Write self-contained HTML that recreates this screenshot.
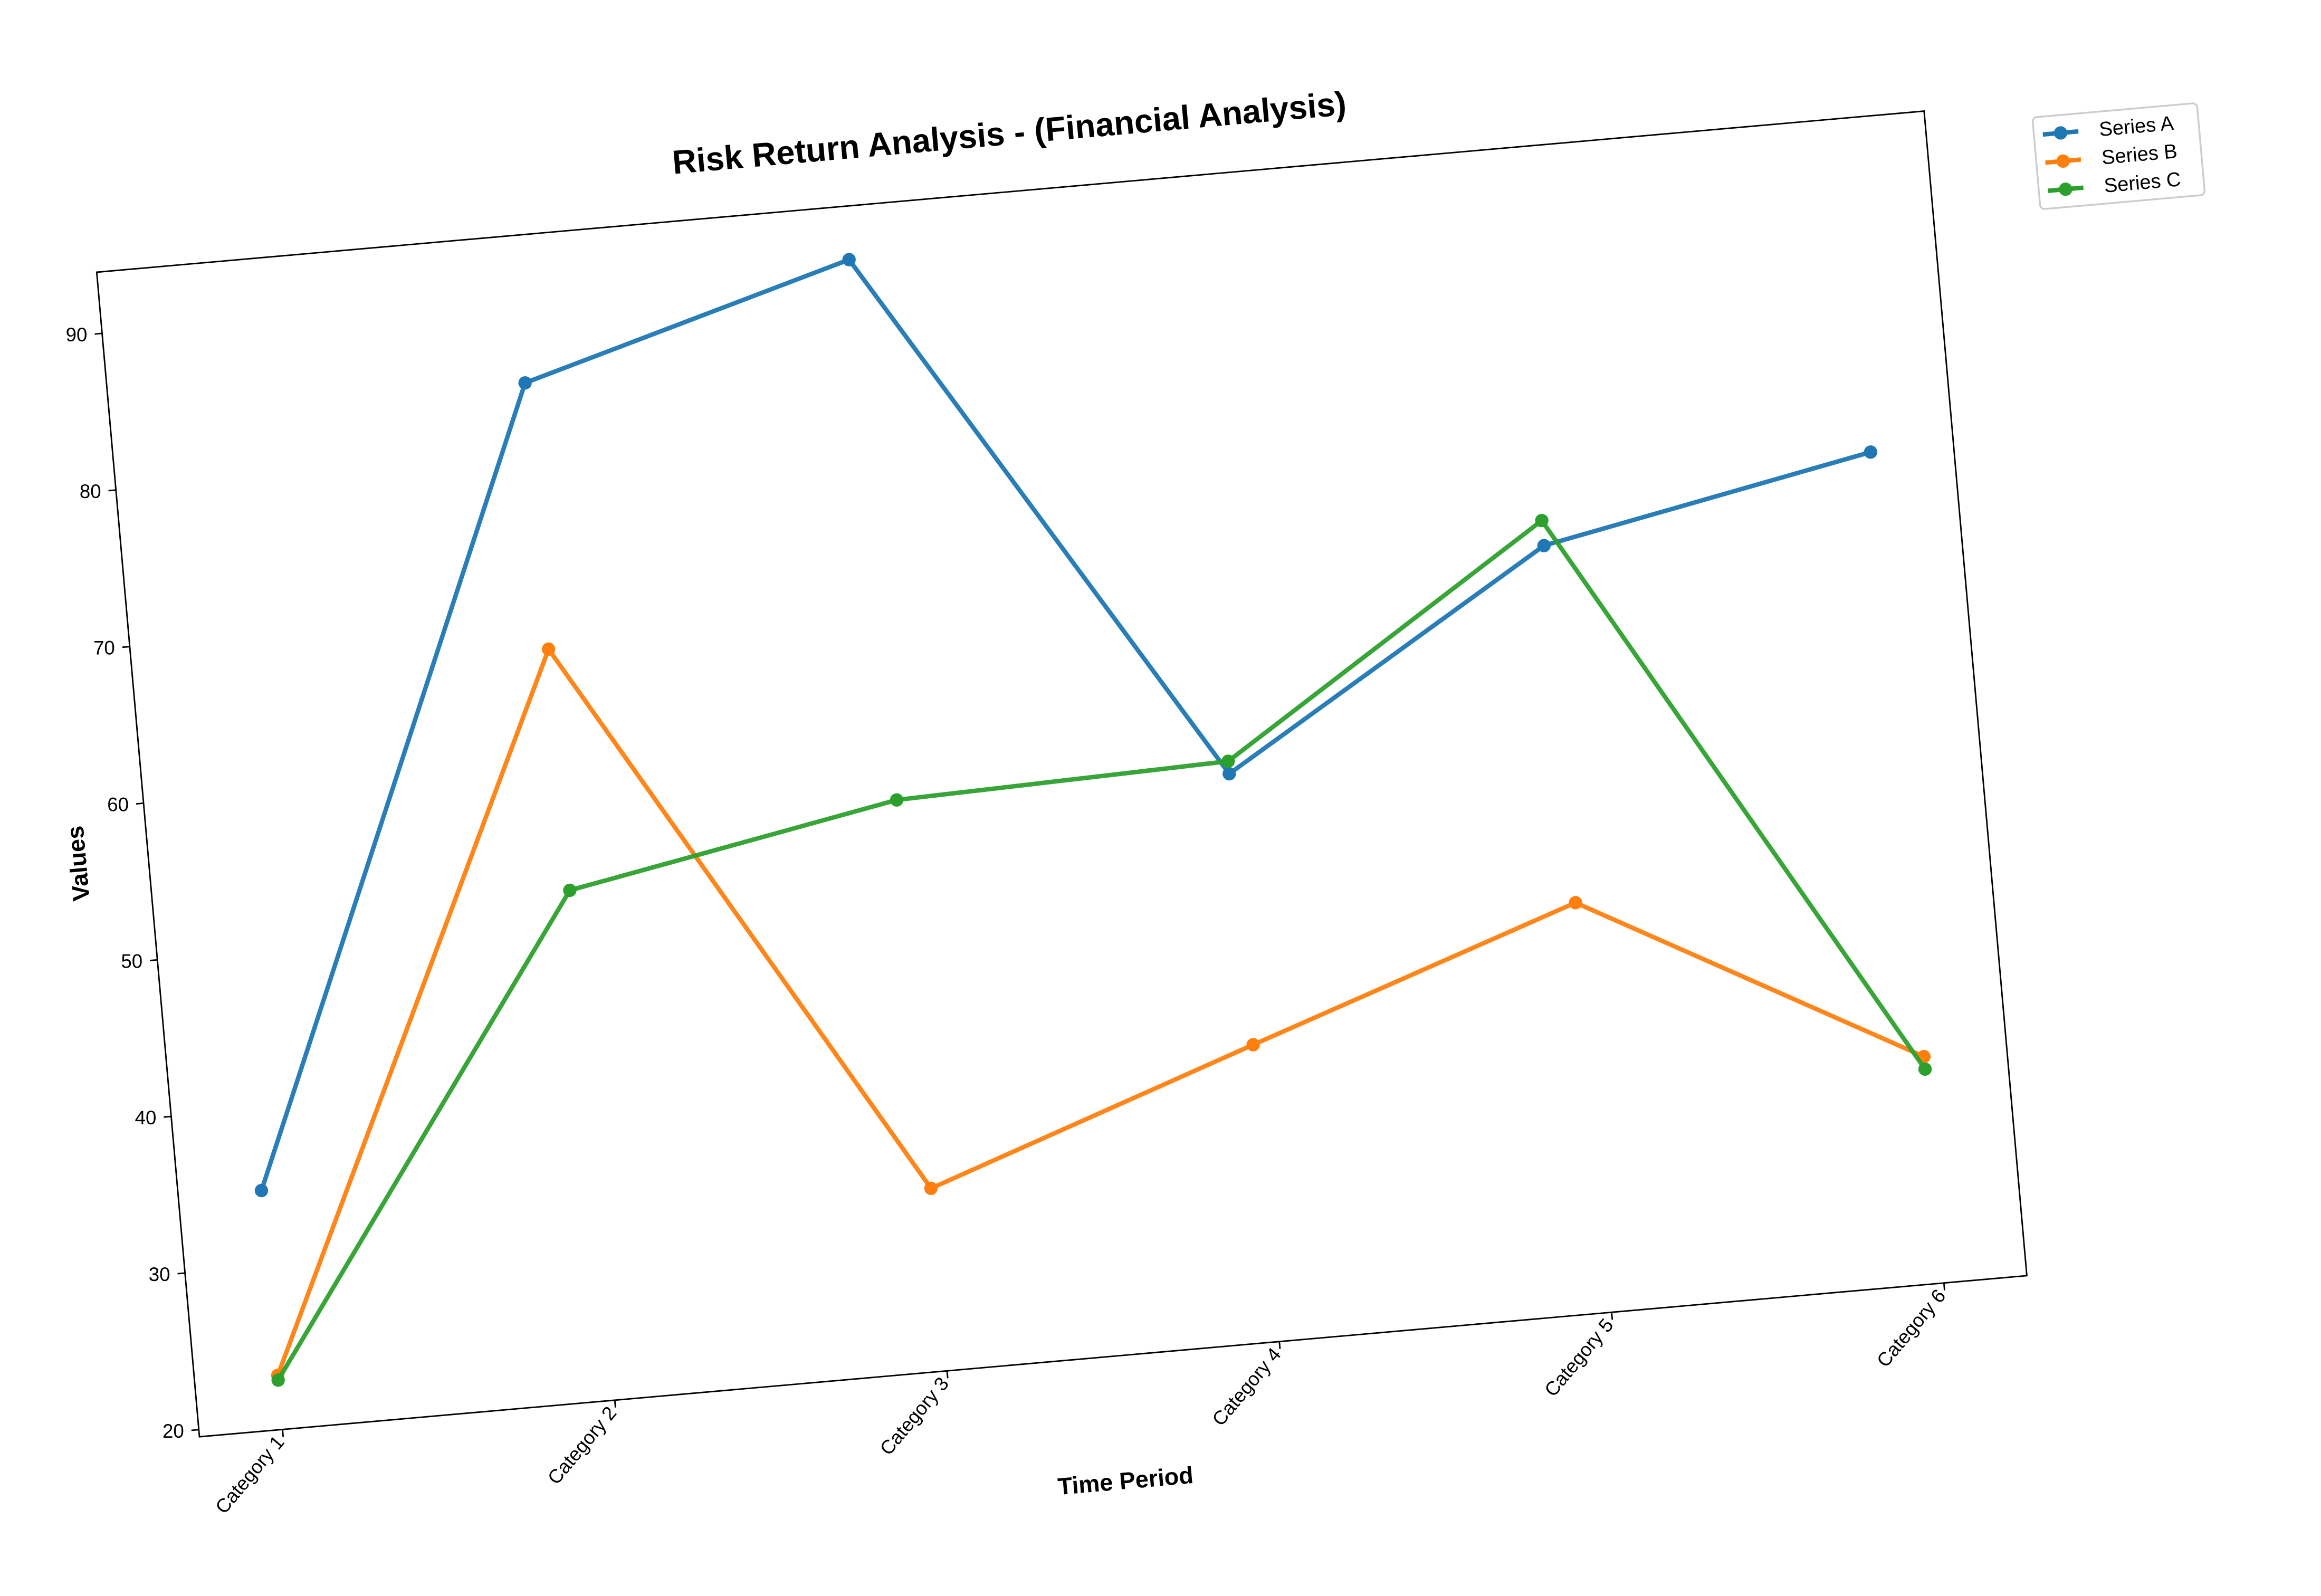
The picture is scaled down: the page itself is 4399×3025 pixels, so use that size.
<!DOCTYPE html>
<html><head><meta charset="utf-8">
<style>html,body{margin:0;padding:0;background:#fff}svg{display:block}</style>
</head><body>
<svg id="chart" width="4399" height="3025" viewBox="0 0 1560 1073" preserveAspectRatio="none" xmlns="http://www.w3.org/2000/svg" font-family="Liberation Sans, sans-serif">
<rect width="1560" height="1073" fill="#fff"/>
<text x="679" y="97" font-size="22.5" font-weight="bold" text-anchor="middle" transform="rotate(-5.04 679 97)">Risk Return Analysis - (Financial Analysis)</text>
<text x="58" y="580" font-size="16" font-weight="bold" text-anchor="middle" transform="rotate(-95.04 58 580)">Values</text>
<text x="757" y="1001" font-size="16" font-weight="bold" text-anchor="middle" transform="rotate(-5.04 757 1001)">Time Period</text>
<g id="axes" transform="translate(65,183) rotate(-5.04)">
<rect x="0" y="0" width="1233" height="786" fill="none" stroke="#000" stroke-width="1"/>
</g>
<g id="outer"></g>
<g transform="translate(1366,79) rotate(-5.04)">
<rect x="0" y="0" width="111" height="62" rx="3" fill="#fff" stroke="#ccc" stroke-width="1.2"/>
<g><line x1="6" y1="12" x2="30" y2="12" stroke="#1f77b4" stroke-width="3"/><circle cx="18" cy="12" r="4.5" fill="#1f77b4"/><text x="44" y="16.5" font-size="13.5">Series A</text></g>
<g><line x1="6" y1="31" x2="30" y2="31" stroke="#ff7f0e" stroke-width="3"/><circle cx="18" cy="31" r="4.5" fill="#ff7f0e"/><text x="44" y="35.5" font-size="13.5">Series B</text></g>
<g><line x1="6" y1="50" x2="30" y2="50" stroke="#2ca02c" stroke-width="3"/><circle cx="18" cy="50" r="4.5" fill="#2ca02c"/><text x="44" y="54.5" font-size="13.5">Series C</text></g>
</g>
</svg>
<script>
const categories = ["Category 1","Category 2","Category 3","Category 4","Category 5","Category 6"];
const seriesA = [34.8, 84.5, 90.5, 55.8, 68.5, 72.6];
const seriesB = [23.0, 67.5, 31.2, 38.5, 45.7, 34.0];
const seriesC = [22.7, 52.1, 56.0, 56.6, 70.1, 33.2];
const yTicks = [20, 30, 40, 50, 60, 70, 80, 90];

const NS = "http://www.w3.org/2000/svg";
const axes = document.getElementById("axes");
const outer = document.getElementById("outer");
const H = 786;
const xScale = i => (i + 0.25) * 224.2;
const yScale = v => 41.3 + (90 - v) * 10.57;
const th = -5.04 * Math.PI / 180, c = Math.cos(th), s = Math.sin(th);
const toScreen = (u, v) => [65 + u * c - v * s, 183 + u * s + v * c];
function mk(tag, attrs, parent) {
  const e = document.createElementNS(NS, tag);
  for (const k in attrs) e.setAttribute(k, attrs[k]);
  parent.appendChild(e);
  return e;
}
yTicks.forEach(t => {
  const v = yScale(t);
  const tk = mk("line", {x1: -5, y1: v, x2: 0, y2: v, stroke: "#000", "stroke-width": 1}, axes);
  
  
  const p = toScreen(-10, v);
  const tx = mk("text", {x: p[0], y: p[1] + 4.5, "font-size": 13, "text-anchor": "end"}, outer);
  
  
  tx.textContent = t;
});
categories.forEach((cat, i) => {
  const u = xScale(i);
  const tk = mk("line", {x1: u, y1: H, x2: u, y2: H + 5, stroke: "#000", "stroke-width": 1}, axes);
  
  
  const p = toScreen(u + 1, H + 9);
  const tx = mk("text", {x: p[0], y: p[1], "font-size": 13, "text-anchor": "end", transform: `rotate(-50 ${p[0]} ${p[1]})`}, outer);
  
  
  tx.textContent = cat;
});
[[seriesA, "#1f77b4", "a"], [seriesB, "#ff7f0e", "b"], [seriesC, "#2ca02c", "c"]].forEach(([vals, col, id]) => {
  const pts = vals.map((v, i) => xScale(i) + "," + yScale(v)).join(" ");
  const pl = mk("polyline", {points: pts, fill: "none", stroke: col, "stroke-width": 3, "stroke-linejoin": "round", opacity: 0.95}, axes);
  
  
  vals.forEach((v, i) => {
    const m = mk("circle", {cx: xScale(i), cy: yScale(v), r: 4.5, fill: col}, axes);
    
    
  });
});
</script>
</body></html>
